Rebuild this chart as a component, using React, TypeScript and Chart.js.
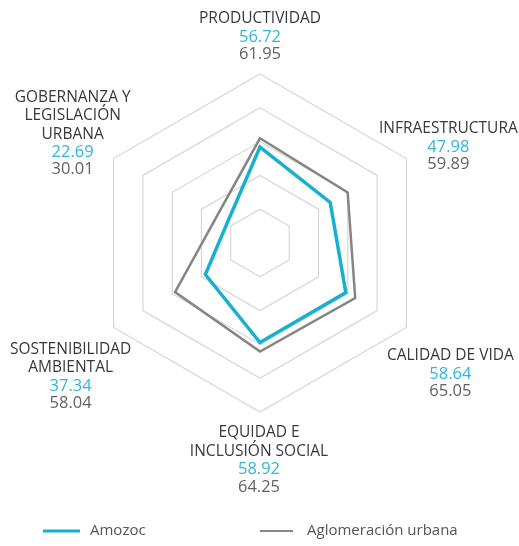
import React, { useEffect, useRef } from "react";
import { Chart, registerables } from "chart.js";

Chart.register(...registerables);

const categories: string[][] = [
  ["PRODUCTIVIDAD"],
  ["INFRAESTRUCTURA"],
  ["CALIDAD DE VIDA"],
  ["EQUIDAD E", "INCLUSIÓN SOCIAL"],
  ["SOSTENIBILIDAD", "AMBIENTAL"],
  ["GOBERNANZA Y", "LEGISLACIÓN", "URBANA"],
];
const amozoc: number[] = [56.72, 47.98, 58.64, 58.92, 37.34, 22.69];
const aglomeracion: number[] = [61.95, 59.89, 65.05, 64.25, 58.04, 30.01];
const seriesNames: string[] = ["Amozoc", "Aglomeración urbana"];

const CYAN = "#17b1cf";
const CYAN_TEXT = "#32b5d8";
const GRAY = "#858585";
const GRAY_TEXT = "#626262";
const LABEL = "#383838";
const FONT = "'Open Sans', sans-serif";

// label block offsets relative to outer ring vertex (layout only)
const labelOffsets: [number, number][] = [
  [0, -55],
  [42, -30],
  [44, 28],
  [-1, 21],
  [-43, 22],
  [-41, -61],
];

const labelPlugin = {
  id: "customLabels",
  afterDraw(chart: any) {
    const ctx = chart.ctx;
    const scale = chart.scales.r;
    const lh = 18.3;
    ctx.save();
    ctx.textAlign = "center";
    ctx.textBaseline = "middle";
    categories.forEach((lines, i) => {
      const p = scale.getPointPosition(i, scale.drawingArea);
      const x = p.x + labelOffsets[i][0];
      let y = p.y + labelOffsets[i][1];
      ctx.font = `15.5px ${FONT}`;
      ctx.fillStyle = LABEL;
      lines.forEach((t) => {
        ctx.fillText(t, x, y);
        y += lh;
      });
      ctx.font = `16.5px ${FONT}`;
      ctx.fillStyle = CYAN_TEXT;
      ctx.fillText(amozoc[i].toFixed(2), x, y);
      y += lh - 1;
      ctx.fillStyle = GRAY_TEXT;
      ctx.fillText(aglomeracion[i].toFixed(2), x, y);
    });
    // legend
    const ly = 531;
    ctx.lineWidth = 3;
    ctx.strokeStyle = CYAN;
    ctx.beginPath();
    ctx.moveTo(43, ly);
    ctx.lineTo(80, ly);
    ctx.stroke();
    ctx.lineWidth = 2;
    ctx.strokeStyle = GRAY;
    ctx.beginPath();
    ctx.moveTo(260, ly);
    ctx.lineTo(293, ly);
    ctx.stroke();
    ctx.font = `15px ${FONT}`;
    ctx.fillStyle = "#555555";
    ctx.textAlign = "left";
    ctx.fillText(seriesNames[0], 90, ly);
    ctx.fillText(seriesNames[1], 307, ly);
    ctx.restore();
  },
};

export default function App() {
  const ref = useRef<HTMLCanvasElement | null>(null);
  useEffect(() => {
    if (!ref.current) return;
    const chart = new Chart(ref.current, {
      type: "radar",
      data: {
        labels: categories.map((c) => c.join(" ")),
        datasets: [
          {
            label: seriesNames[0],
            data: amozoc,
            borderColor: CYAN,
            backgroundColor: "rgba(0,0,0,0)",
            borderWidth: 3.5,
            pointRadius: 0,
            fill: false,
          },
          {
            label: seriesNames[1],
            data: aglomeracion,
            borderColor: GRAY,
            backgroundColor: "rgba(0,0,0,0)",
            borderWidth: 2.5,
            pointRadius: 0,
            fill: false,
          },
        ],
      },
      options: {
        responsive: false,
        animation: false,
        layout: { padding: { left: 91, right: 90, top: 74, bottom: 134 } },
        plugins: { legend: { display: false }, tooltip: { enabled: false } },
        elements: { line: { tension: 0 } },
        scales: {
          r: {
            min: 0,
            max: 100,
            ticks: { display: false, stepSize: 20 },
            grid: { color: "#d6d6d6", lineWidth: 1.2 },
            angleLines: { display: false },
            pointLabels: { display: false },
          },
        },
      },
      plugins: [labelPlugin],
    });
    return () => chart.destroy();
  }, []);
  return (
    <div style={{ position: "fixed", left: 0, top: 0, width: 519, height: 546, background: "#fff" }}>
      <canvas ref={ref} width={519} height={546} style={{ display: "block" }} />
    </div>
  );
}
